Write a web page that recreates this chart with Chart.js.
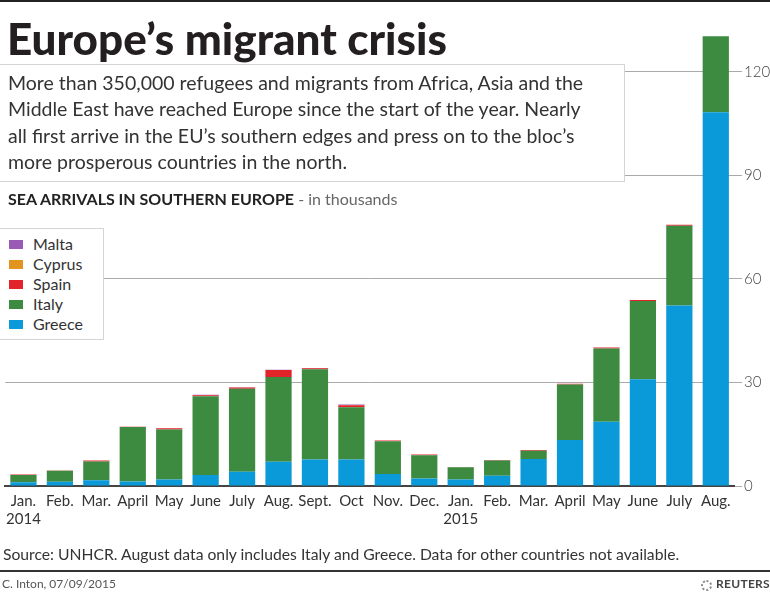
<!DOCTYPE html>
<html>
<head>
<meta charset="utf-8">
<script src="https://cdn.jsdelivr.net/npm/chart.js@4"></script>
<style>
  body { margin: 0; background: #fff; font-family: Lato, "Open Sans", sans-serif; color: #222; }
  #wrap { position: relative; width: 770px; height: 593px; overflow: hidden; }
  #topline { position: absolute; left: 0; top: 0; width: 770px; height: 2px; background: #222; }
  #chartbox { position: absolute; left: 0; top: 0; width: 770px; height: 593px; }
  #title { position: absolute; left: 7px; top: 12px; font-size: 44px; font-weight: 900; color: #231f20; white-space: nowrap; letter-spacing: 0px; }
  #desc { position: absolute; left: -1px; top: 64px; width: 626px; height: 118px; background: #fff; border: 1px solid #d4d4d4; box-sizing: border-box; }
  #desc p { margin: 0; position: absolute; left: 8px; top: 5px; font-size: 19.5px; line-height: 26.3px; color: #333; white-space: nowrap; font-weight: 400; }
  #sub { position: absolute; left: 8px; top: 189px; font-size: 16px; white-space: nowrap; color: #222; }
  #sub b { font-weight: 700; }
  #sub span { color: #666; }
  #legend { position: absolute; left: -1px; top: 228px; width: 105px; height: 112px; background: #fff; border: 1px solid #d4d4d4; box-sizing: border-box; }
  .li { position: absolute; left: 9px; font-size: 16px; color: #333; white-space: nowrap; }
  .li i { display: inline-block; width: 14px; height: 9px; margin-right: 10px; vertical-align: 1px; }
  #source { position: absolute; left: 3px; top: 545px; font-size: 15.7px; color: #333; white-space: nowrap; }
  #rule { position: absolute; left: 0; top: 570px; width: 770px; height: 2px; background: #333; }
  #credit { position: absolute; left: 2px; top: 576px; font-size: 12px; color: #555; }
  #reuters { position: absolute; right: 0px; top: 576px; font-size: 12px; font-weight: 700; color: #444; letter-spacing: 0.3px; }
  #reuters i { display: inline-block; width: 11px; height: 11px; border: 2px dotted #888; border-radius: 50%; vertical-align: -3px; margin-right: 4px; box-sizing: border-box; }
</style>
</head>
<body>
<div id="wrap">
  <div id="chartbox"><canvas id="chart" width="770" height="593"></canvas></div>
  <div id="topline"></div>
  <div id="title">Europe’s migrant crisis</div>
  <div id="desc"><p>More than 350,000 refugees and migrants from Africa, Asia and the<br>Middle East have reached Europe since the start of the year. Nearly<br>all first arrive in the EU’s southern edges and press on to the bloc’s<br>more prosperous countries in the north.</p></div>
  <div id="sub"><b>SEA ARRIVALS IN SOUTHERN EUROPE</b> <span>- in thousands</span></div>
  <div id="legend"></div>
  <div id="source">Source: UNHCR. August data only includes Italy and Greece. Data for other countries not available.</div>
  <div id="rule"></div>
  <div id="credit">C. Inton, 07/09/2015</div>
  <div id="reuters"><i></i>REUTERS</div>
</div>
<script>
// months Jan 2014 - Aug 2015, thousands of sea arrivals
var months = ['Jan.', 'Feb.', 'Mar.', 'April', 'May', 'June', 'July', 'Aug.', 'Sept.', 'Oct', 'Nov.', 'Dec.',
              'Jan.', 'Feb.', 'Mar.', 'April', 'May', 'June', 'July', 'Aug.'];
var years = {0: '2014', 12: '2015'};

var greece = [1.1, 1.2, 1.7, 1.3, 1.9, 3.2, 4.1, 7.0, 7.7, 7.7, 3.5, 2.2, 1.9, 3.0, 7.8, 13.3, 18.6, 30.9, 52.3, 108.3];
var italy  = [2.1, 3.2, 5.4, 15.8, 14.5, 22.8, 24.1, 24.6, 26.1, 15.1, 9.5, 6.7, 3.5, 4.4, 2.4, 16.1, 21.2, 22.7, 23.1, 22.0];
var spain  = [0.1, 0.1, 0.3, 0.1, 0.3, 0.3, 0.3, 2.0, 0.3, 0.6, 0.2, 0.2, 0.1, 0.1, 0.2, 0.2, 0.3, 0.3, 0.3, 0];
var cyprus = [0, 0, 0, 0, 0, 0, 0, 0, 0, 0.1, 0, 0, 0, 0, 0, 0, 0, 0, 0, 0];
var malta  = [0, 0, 0, 0, 0, 0.1, 0.1, 0.1, 0.1, 0.1, 0, 0, 0, 0, 0, 0, 0, 0, 0, 0];

var yTicks = [0, 30, 60, 90, 120];

var series = [
  {label: 'Greece', data: greece, color: '#0a9ad9'},
  {label: 'Italy',  data: italy,  color: '#3d8b41'},
  {label: 'Spain',  data: spain,  color: '#e2232a'},
  {label: 'Cyprus', data: cyprus, color: '#e39420'},
  {label: 'Malta',  data: malta,  color: '#9b59b6'}
];

// legend box, top to bottom: Malta ... Greece
var legend = document.getElementById('legend');
series.slice().reverse().forEach(function(s, i) {
  var d = document.createElement('div');
  d.className = 'li';
  d.style.top = (5 + i * 20) + 'px';
  d.innerHTML = '<i style="background:' + s.color + '"></i>' + s.label;
  legend.appendChild(d);
});

var labels = months.map(function(m, i) {
  return years[i] ? [m, years[i]] : m;
});

var ctx = document.getElementById('chart');
var chart = new Chart(ctx, {
  type: 'bar',
  data: {
    labels: labels,
    datasets: series.map(function(s) {
      return {
        label: s.label,
        data: s.data,
        backgroundColor: s.color,
        borderWidth: 0,
        categoryPercentage: 1,
        barPercentage: 0.72
      };
    })
  },
  options: {
    responsive: false,
    animation: false,
    layout: {padding: {top: 20, left: 2, right: 0, bottom: 0}},
    plugins: {legend: {display: false}, tooltip: {enabled: false}},
    scales: {
      x: {
        stacked: true,
        offset: true,
        grid: {display: true, color: 'rgba(0,0,0,0)', drawTicks: false},
        border: {display: true, color: '#444', width: 2},
        ticks: {
          color: '#333',
          padding: 6,
          maxRotation: 0,
          autoSkip: false,
          font: {family: 'Lato', size: 15}
        },
        afterFit: function(scale) { scale.height = 107; }
      },
      y: {
        stacked: true,
        position: 'right',
        min: 0,
        max: 135,
        grid: {color: '#aaa', lineWidth: 1, drawTicks: true, tickLength: 8},
        border: {display: false},
        ticks: {
          color: '#444',
          padding: 2,
          font: {family: 'Lato', size: 15, weight: 300}
        },
        afterBuildTicks: function(scale) {
          scale.ticks = yTicks.map(function(v) { return {value: v}; });
        },
        afterFit: function(scale) { scale.width = 36; }
      }
    }
  }
});
</script>
</body>
</html>
